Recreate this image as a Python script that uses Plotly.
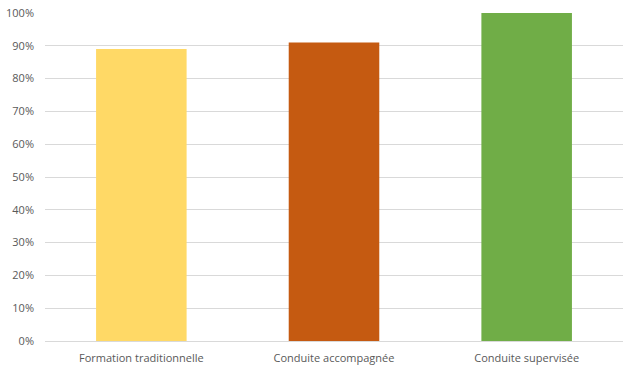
import plotly.graph_objects as go

categories = ["Formation traditionnelle", "Conduite accompagnée", "Conduite supervisée"]
values = [0.89, 0.91, 1.00]
colors = ["#FFD966", "#C55A11", "#70AD47"]
y_ticks = [i / 10 for i in range(11)]

fig = go.Figure()
fig.add_trace(go.Bar(
    x=categories, y=values,
    marker=dict(color=colors, line=dict(width=0)),
    width=0.47,
))

fig.update_layout(
    width=638, height=371,
    margin=dict(l=45, r=15, t=13, b=30),
    plot_bgcolor="white", paper_bgcolor="white",
    showlegend=False,
    font=dict(family="Open Sans, DejaVu Sans, sans-serif", size=11, color="#595959"),
    xaxis=dict(showgrid=False, showline=False, ticks="", tickfont=dict(size=11),
               automargin=False, ticklabelstandoff=9),
    yaxis=dict(range=[0, 1.0], tickvals=y_ticks, tickformat=".0%",
               showgrid=True, gridcolor="#D9D9D9", gridwidth=1,
               zeroline=True, zerolinecolor="#D9D9D9", zerolinewidth=1,
               ticks="", ticklabelstandoff=10, tickfont=dict(size=11),
               automargin=False),
)
fig.write_html("out.html", config={"displayModeBar": False},
               post_script="document.body.style.margin='0';")
